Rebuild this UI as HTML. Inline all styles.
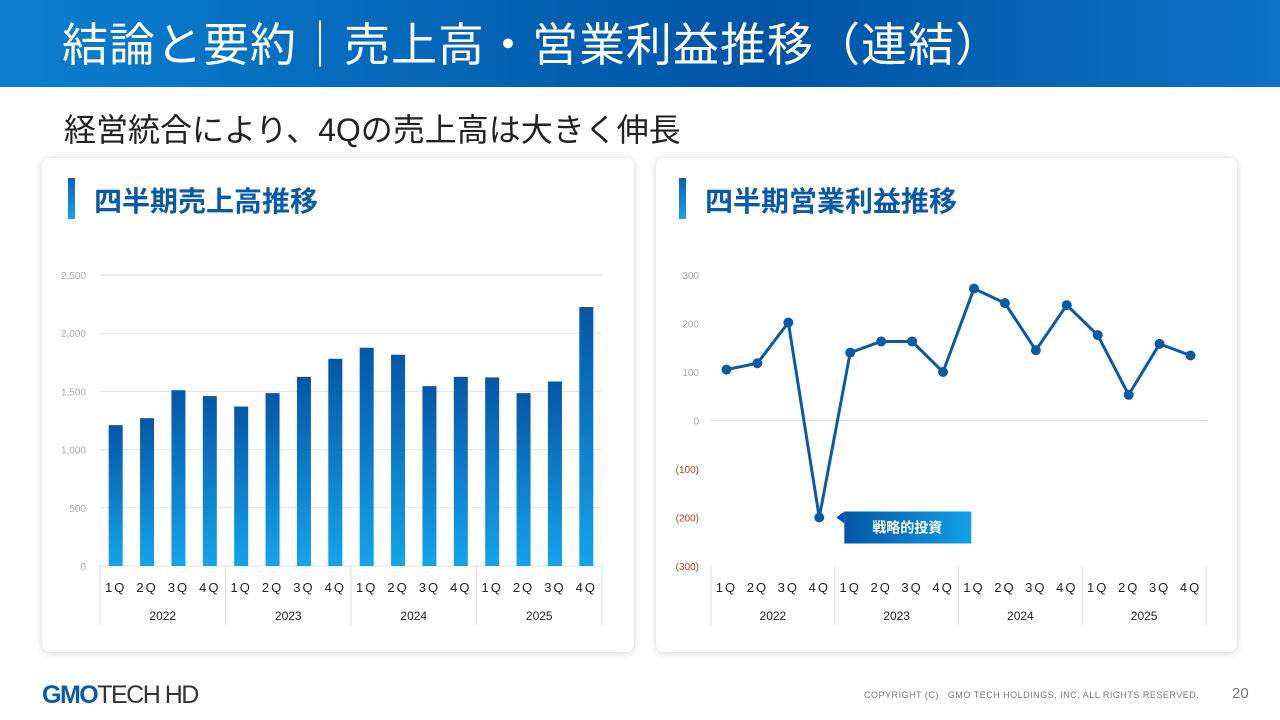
<!DOCTYPE html>
<html><head><meta charset="utf-8">
<style>
body{margin:0;width:1280px;height:720px;background:#fff;font-family:"Liberation Sans","Noto Sans CJK JP",sans-serif;position:relative;overflow:hidden}
.hdr{position:absolute;left:0;top:0;width:1280px;height:87px;background:linear-gradient(90deg,#0a7fcf,#0054a6 60%,#0d72c4)}
.hdr h1{margin:0;position:absolute;left:62px;top:15px;font-weight:400;font-size:46px;line-height:60px;color:#fff;letter-spacing:1px;white-space:nowrap}
.sub{position:absolute;left:64px;top:108px;font-size:32px;line-height:44px;color:#222;white-space:nowrap}
.card{position:absolute;background:#fff;border-radius:8px;box-shadow:0 1px 8px rgba(0,0,0,.18)}
.ct{position:absolute;top:22px;font-size:28px;font-weight:700;color:#0b5aa5}
.bar{position:absolute;top:178px;width:7px;height:41px;background:linear-gradient(#0a63b5,#1ea0e8)}
svg{position:absolute;left:0;top:0}
.foot{position:absolute;left:864px;top:690px;font-size:9px;color:#777;letter-spacing:.5px}
.pg{position:absolute;left:1232px;top:685px;font-size:15px;color:#777}
.logo{position:absolute;left:42px;top:681px;font-size:25px;color:#0b5aa5;letter-spacing:-1.5px}
</style></head><body>
<div class="hdr"><h1>結論と要約｜売上高・営業利益推移（連結）</h1></div>
<div class="sub">経営統合により、4Qの売上高は大きく伸長</div>
<div class="card" style="left:42px;top:158px;width:592px;height:494px"></div>
<div class="card" style="left:656px;top:158px;width:581px;height:494px"></div>
<div class="bar" style="left:68px"></div>
<div class="ct" style="left:94px;top:180px">四半期売上高推移</div>
<div class="bar" style="left:679px"></div>
<div class="ct" style="left:705px;top:180px">四半期営業利益推移</div>
<svg id="chart" width="1280" height="720">
<defs>
<linearGradient id="bg" x1="0" y1="0" x2="0" y2="1"><stop offset="0" stop-color="#0556a6"/><stop offset="1" stop-color="#14a4ec"/></linearGradient>
<linearGradient id="cg" x1="0" y1="0" x2="1" y2="0"><stop offset="0" stop-color="#0556a6"/><stop offset="1" stop-color="#12a0e8"/></linearGradient>
</defs>
</svg>
<div class="logo"><b style="font-weight:900">GMO</b><span style="color:#333;font-weight:400">TECH HD</span></div>
<div class="foot">COPYRIGHT (C)&nbsp;&nbsp; GMO TECH HOLDINGS, INC. ALL RIGHTS RESERVED.</div>
<div class="pg">20</div>
<script>
const quarters=["1Q","2Q","3Q","4Q"];
const years=["2022","2023","2024","2025"];
const sales=[1210,1270,1510,1460,1370,1485,1625,1780,1875,1815,1545,1625,1620,1485,1585,2225];
const salesTicks=[0,500,1000,1500,2000,2500];
const salesTickLabels=["0","500","1,000","1,500","2,000","2,500"];
const profit=[105,118,202,-200,140,163,163,100,272,242,145,238,176,53,158,134];
const profitTicks=[300,200,100,0,-100,-200,-300];
const profitTickLabels=["300","200","100","0","(100)","(200)","(300)"];
const NS="http://www.w3.org/2000/svg";
const svg=document.getElementById('chart');
function mk(t,a,txt){const e=document.createElementNS(NS,t);for(const k in a)e.setAttribute(k,a[k]);if(txt!==undefined)e.textContent=txt;svg.appendChild(e);return e;}
function catAxis(x0,x1,yb,name){
  const n=years.length*quarters.length,w=(x1-x0)/n;
  for(let g=0;g<=years.length;g++){const l=mk('line',{x1:x0+g*4*w,x2:x0+g*4*w,y1:yb,y2:yb+59,stroke:'#ddd'});
    }
  for(let i=0;i<n;i++){const t=mk('text',{x:x0+(i+.5)*w,y:yb+26,'text-anchor':'middle','font-size':13,fill:'#222','letter-spacing':'2'},quarters[i%4]);
    }
  years.forEach((y,g)=>{const t=mk('text',{x:x0+(g*4+2)*w,y:yb+54,'text-anchor':'middle','font-size':12,fill:'#222'},y);
    });
  return w;
}
(function(){
  const x0=100,x1=602,yb=566,yt=275,max=2500;
  const ys=v=>yb-(v/max)*(yb-yt);
  salesTicks.forEach((v,i)=>{
    const l=mk('line',{x1:x0,x2:x1,y1:ys(v),y2:ys(v),stroke:'#e3e3e3'});
    
    const t=mk('text',{x:86,y:ys(v)+4,'text-anchor':'end','font-size':10,fill:'#aaa'},salesTickLabels[i]);
    
  });
  const w=catAxis(x0,x1,yb,'sales');
  sales.forEach((v,i)=>{
    const r=mk('rect',{x:x0+(i+.5)*w-7,y:ys(v),width:14,height:yb-ys(v),fill:'url(#bg)'});
    
  });
})();
(function(){
  const x0=711,x1=1206,yt=275,yb=566,max=300,min=-300;
  const ys=v=>yt+(max-v)/(max-min)*(yb-yt);
  profitTicks.forEach((v,i)=>{
    const t=mk('text',{x:699,y:ys(v)+4,'text-anchor':'end','font-size':10,fill:v<0?'#c0392b':'#aaa'},profitTickLabels[i]);
    
  });
  const z=mk('line',{x1:x0,x2:x1,y1:ys(0),y2:ys(0),stroke:'#ddd'});
  
  const w=catAxis(x0,x1,yb,'profit');
  const xs=i=>x0+(i+.5)*w;
  const p=mk('polyline',{points:profit.map((v,i)=>xs(i)+','+ys(v)).join(' '),fill:'none',stroke:'#0b5aa5','stroke-width':3,'stroke-linejoin':'round'});
  
  profit.forEach((v,i)=>{
    const c=mk('circle',{cx:xs(i),cy:ys(v),r:5,fill:'#0b5aa5'});
    
  });
  let mi=0;profit.forEach((v,i)=>{if(v<profit[mi])mi=i;});
  const cx=xs(mi)+25,cy=ys(profit[mi]);
  const tri=mk('polygon',{points:(cx-8)+','+cy+' '+cx+','+(cy-6)+' '+cx+','+(cy+6),fill:'#0556a6'});
  
  const b=mk('rect',{x:cx,y:cy-6,width:127,height:32,fill:'url(#cg)'});
  
  const t=mk('text',{x:cx+63,y:cy+15,'text-anchor':'middle','font-size':14,'font-weight':'700',fill:'#fff'},'戦略的投資');
  
})();
</script>
</body></html>
